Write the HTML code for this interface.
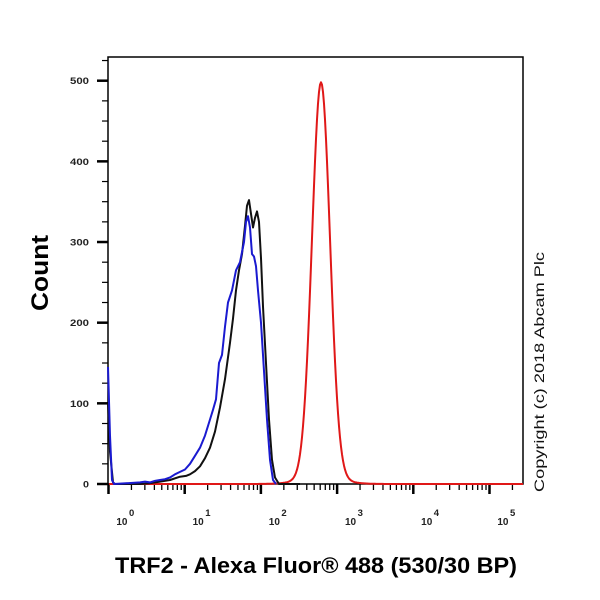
<!DOCTYPE html>
<html><head><meta charset="utf-8"><style>body{margin:0;background:#fff}svg{display:block}</style></head>
<body>
<svg id="s" width="600" height="600" xmlns="http://www.w3.org/2000/svg" font-family="Liberation Sans, Arial, sans-serif">
<rect width="600" height="600" fill="#fff"/>
<g id="ax" stroke="#000" fill="none"></g>
<g id="cv" fill="none" stroke-width="2" stroke-linejoin="round"></g>
<g font-weight="bold" fill="#000">
<text x="48" y="273" transform="rotate(-90 48 273)" font-size="24" text-anchor="middle" textLength="76" lengthAdjust="spacingAndGlyphs">Count</text>
<text x="316" y="573" font-size="22" text-anchor="middle" textLength="402" lengthAdjust="spacingAndGlyphs">TRF2 - Alexa Fluor® 488 (530/30 BP)</text>
</g>
<text x="544" y="492" transform="rotate(-90 544 492)" font-size="14" fill="#111" textLength="240" lengthAdjust="spacingAndGlyphs">Copyright (c) 2018 Abcam Plc</text>
<g id="lb" font-size="10" font-weight="bold" fill="#222"></g>
</svg>
<script>
const NS="http://www.w3.org/2000/svg";
function el(p,t,a,txt){const e=document.createElementNS(NS,t);for(const k in a)e.setAttribute(k,a[k]);if(txt!=null)e.textContent=txt;document.getElementById(p).appendChild(e);return e;}
const Y=c=>484-c*0.8066, X0=108.5, D=76.2;
el('ax','rect',{x:108,y:57,width:415,height:427,'stroke-width':1.5});
for(let c=0;c<=525;c+=25){const maj=c%100==0;el('ax','line',{x1:maj?97:102,x2:108,y1:Y(c),y2:Y(c),'stroke-width':maj?2.5:1.2});
 if(maj)el('lb','text',{x:89,y:Y(c)+3.5,'text-anchor':'end','font-size':9.5,textLength:c==0?6:19,lengthAdjust:'spacingAndGlyphs'},String(c));}
for(let d=0;d<=5;d++){for(let m=1;m<=9;m++){const x=X0+D*(d+Math.log10(m));if(x>523)break;
 el('ax','line',{x1:x,x2:x,y1:484,y2:m==1?494:490,'stroke-width':m==1?2.5:1.3});}
 const lx=X0+D*d+19;el('lb','text',{x:lx,y:525,'text-anchor':'end'},'10');el('lb','text',{x:lx+1.5,y:516,'font-size':9.5},String(d));}
function pl(pts,col){el('cv','polyline',{points:pts.map(p=>p[0]+','+Y(p[1]).toFixed(1)).join(' '),stroke:col});}
let r=[[109,0]];for(let x=200;x<=523;x+=1){let v=490*Math.exp(-((x-321)**2)/(2*9*9))+8*Math.exp(-((x-321)**2)/(2*20*20));r.push([x,v]);}
pl(r,'#e01818');
pl([[108,100],[110,40],[113,2],[115,0],[140,0],[150,1],[160,3],[170,5],[180,9],[186,10],[190,12],[195,16],[200,22],[205,32],[210,45],[215,65],[220,95],[225,130],[230,175],[233,205],[236,240],[239,265],[242,285],[245,320],[247,345],[249,352],[251,335],[253,318],[255,330],[257,338],[259,325],[261,280],[263,220],[266,150],[269,80],[272,30],[275,8],[279,0],[300,0]],'#111');
pl([[108,145],[110,60],[112,5],[114,0],[140,2],[145,3],[150,2],[155,4],[160,5],[165,6],[170,8],[175,12],[180,15],[185,18],[190,25],[195,35],[200,45],[205,60],[210,80],[213,92],[216,105],[219,150],[222,160],[225,195],[228,225],[232,240],[236,265],[240,275],[244,300],[246,325],[248,332],[250,318],[252,285],[254,282],[256,270],[258,240],[261,200],[264,140],[267,80],[270,30],[273,5],[276,0]],'#1a1ad0');
</script>
</body></html>
